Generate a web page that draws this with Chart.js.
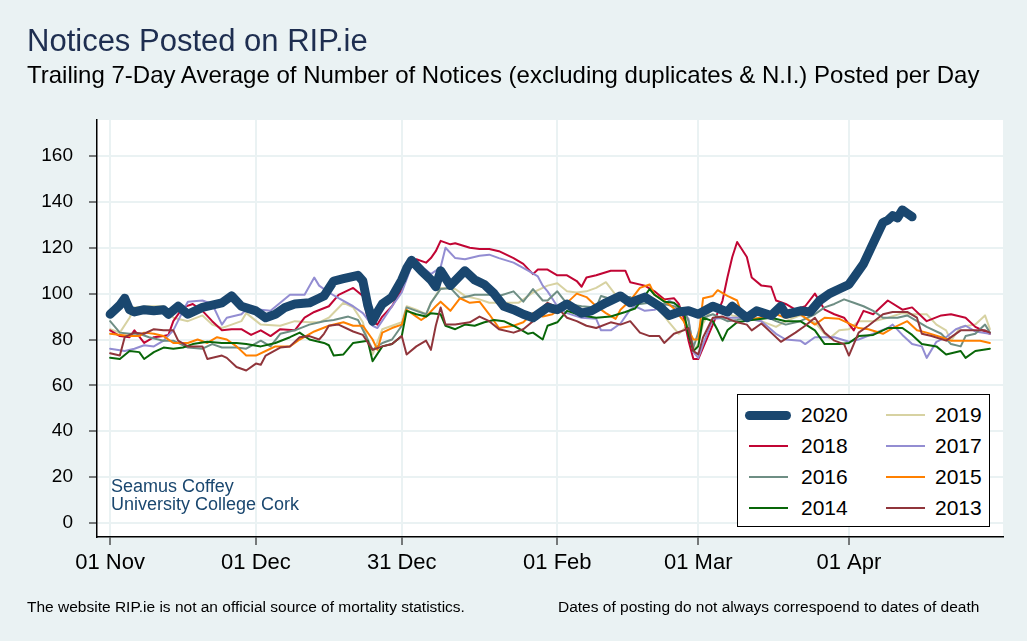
<!DOCTYPE html>
<html>
<head>
<meta charset="utf-8">
<script src="https://cdn.jsdelivr.net/npm/chart.js@4/dist/chart.umd.min.js"></script>
<style>
  body { margin: 0; background: #eaf2f3; font-family: 'Liberation Sans', Arial, sans-serif; }
  #wrap { position: relative; width: 1027px; height: 641px; overflow: hidden; }
  #chart { position: absolute; left: 0; top: 0; }
  .txt { position: absolute; white-space: nowrap; line-height: 1; }
  #legend { position: absolute; left: 737px; top: 394px; width: 253px; height: 133px;
            background: #fff; border: 1px solid #000; box-sizing: border-box; }
  .item { position: absolute; height: 20px; }
  .sw { position: absolute; top: 9px; height: 2px; }
  .lab { position: absolute; font-size: 21px; line-height: 20px; top: 0; }
</style>
</head>
<body>
<div id="wrap">
  <canvas id="chart" width="1027" height="641"></canvas>
  <div class="txt" style="left:27px;top:25px;font-size:31px;color:#1e2e50">Notices Posted on RIP.ie</div>
  <div class="txt" style="left:27px;top:63px;font-size:24px;color:#000">Trailing 7-Day Average of Number of Notices (excluding duplicates &amp; N.I.) Posted per Day</div>
  <div class="txt" style="left:111px;top:477px;font-size:18px;color:#1a476f">Seamus Coffey</div>
  <div class="txt" style="left:111px;top:495px;font-size:18px;color:#1a476f">University College Cork</div>
  <div class="txt" style="left:27px;top:599px;font-size:15.5px;color:#000">The website RIP.ie is not an official source of mortality statistics.</div>
  <div class="txt" style="left:558px;top:599px;font-size:15.5px;color:#000">Dates of posting do not always correspoend to dates of death</div>
  <div id="legend"></div>
</div>
<script>
// x = days since 01 Nov, y = trailing 7-day average of notices
const tickDays = [0, 30, 60, 92, 121, 152];
const tickLabels = ['01 Nov', '01 Dec', '31 Dec', '01 Feb', '01 Mar', '01 Apr'];
const yTicks = [0, 20, 40, 60, 80, 100, 120, 140, 160];
const years = ['2020', '2019', '2018', '2017', '2016', '2015', '2014', '2013'];

const pts2020 = [[0,91],[1,93],[2,95],[3,98],[4,93],[5,92],[7,93],[9,92.5],[11,93],[12,91],[14,94.5],[16,91],[19,94],[21,95],[23,96],[25,99],[27,94.5],[30,92.5],[32,89.5],[34,91],[36,94],[38,95.5],[41,96],[43,98],[44,99],[46,105.5],[48,106.5],[51,108],[52,105.5],[53,95],[54,88],[55,92],[56,95.5],[58,98.5],[60,106],[61,111],[62,114.5],[64,110],[66,106],[67,103],[68,110],[70,103.5],[73,110],[75,106],[77,104],[79,100],[81,94.5],[83,93],[85,91],[87,89.5],[90,94],[92,93],[94,95.5],[97,91.5],[99,92.5],[102,96],[105,99],[107,96],[110,98.5],[113,94.5],[115,90.5],[117,92],[119,92.5],[121,91],[124,94.5],[127,92],[128,94.5],[131,89.5],[133,92.5],[136,90.5],[138,94.5],[139,91],[142,92.5],[144,92],[146,97],[148,100],[150,102],[152,104],[153,107],[155,113],[157,122],[159,131],[160,132],[161,134],[162,133],[163,136.5],[164,135],[165,133.5]];

const pts2019 = [[0,84.5],[2,83],[4,89.5],[5,94],[8,94.5],[11,94.5],[13,89.5],[16,88],[19,90.5],[21,86.5],[23,85],[25,86.5],[27,88],[28,91.5],[31,86.5],[35,86],[38,88],[41,87.5],[43,87.5],[45,89.5],[48,96],[50,94],[52,87.5],[53,79.5],[54,73.5],[56,84.5],[58,86],[60,87.5],[61,94.5],[63,93],[65,91],[66,96],[68,102.5],[71,102],[73,99],[76,97.5],[78,96],[81,96],[84,96],[87,100.5],[89,102.5],[90,103.5],[92,104.5],[94,101],[96,100.5],[98,101],[100,102.5],[102,105],[104,99.5],[106,98.5],[109,97],[111,97],[113,93],[115,87.5],[117,82.5],[119,86.5],[120,75],[121,78],[122,87],[124,94.5],[126,94],[128,90.5],[131,89.5],[134,88],[137,85.5],[139,88],[142,90.5],[145,87.5],[147,82.5],[148,80.5],[150,84],[152,84.5],[154,88],[157,88],[160,89.5],[163,91.5],[165,91],[168,91],[170,86.5],[172,84],[173,79.5],[175,85.5],[178,86.5],[180,90.5],[181,84.5]];

const pts2018 = [[0,84],[2,81.5],[4,81],[5,84],[7,78.5],[9,81],[11,81.5],[12,82],[13,88],[15,94],[17,95.5],[19,92.5],[21,88],[23,84],[25,84.5],[27,84.5],[29,82],[31,84],[33,81.5],[35,84.5],[38,84],[40,89.5],[42,92],[45,94.5],[47,99.5],[50,102.5],[52,99],[53,89],[55,86.5],[56,90],[58,94.5],[60,102],[62,113.5],[63,115],[65,113.5],[66,115.5],[67,118.5],[68,123],[70,121.5],[71,122],[74,120],[76,119.5],[78,119.5],[80,118.5],[83,115.5],[85,113],[87,108.5],[88,110.5],[90,110.5],[92,108],[94,108],[96,105.5],[97,103],[98,107],[100,108],[103,110],[106,110],[107,105],[110,103.5],[112,101],[114,97.5],[116,98],[117,95.5],[118,89.5],[119,79.5],[120,71.5],[121,71.5],[122,76.5],[124,86.5],[126,97],[127,107],[128,116],[129,122.5],[131,116],[132,107],[134,103.5],[136,103],[137,97],[139,95.5],[141,93],[143,94.5],[145,100],[147,93],[149,91],[151,89.5],[153,84],[155,92.5],[157,91],[160,97],[163,93],[165,94],[168,88],[171,90.5],[173,91],[176,89.5],[178,85.5],[181,82.5]];

const pts2017 = [[0,76],[3,75],[5,76],[7,77.5],[9,77],[11,79.5],[13,84],[15,92.5],[16,96.5],[19,97],[21,95.5],[23,86.5],[24,89.5],[27,91],[28,93],[31,93],[33,92.5],[35,96],[37,99.5],[40,99.5],[42,107],[43,103.5],[45,100.5],[47,98],[50,94.5],[52,91.5],[54,86],[55,85],[58,94.5],[60,100.5],[62,112],[64,112],[66,108.5],[68,111.5],[69,120],[71,115.5],[73,115],[76,116.5],[78,117],[80,115.5],[83,113.5],[86,110],[88,107.5],[89,103.5],[90,101],[92,94.5],[94,91.5],[97,89.5],[100,89],[101,84],[103,84],[105,87],[107,93],[108,94.5],[110,92.5],[112,93],[114,94.5],[115,97],[117,94.5],[119,89],[120,74.5],[121,72],[122,78],[124,89],[127,89.5],[130,89.5],[134,88],[137,82.5],[139,80],[142,79.5],[143,78],[145,81],[149,81],[152,79],[154,80],[157,82.5],[160,85],[161,86.5],[163,82],[165,78],[167,77],[168,72],[170,79],[172,81],[174,84.5],[176,86],[178,83.5],[181,82.5]];

const pts2016 = [[0,88],[2,83],[4,82.5],[6,82.5],[8,81],[11,79.5],[13,79.5],[16,76.5],[19,76],[21,78],[23,76.5],[26,76.5],[28,76],[31,79.5],[33,77],[35,82.5],[38,84],[41,86.5],[44,88],[46,88.5],[49,90],[51,88.5],[53,80],[54,75.5],[56,78.5],[58,80],[60,86],[61,94],[63,92.5],[65,91],[66,96],[68,102],[70,102.5],[72,98],[75,99.5],[78,99.5],[80,99],[83,101],[85,96.5],[87,102],[89,97],[90,97],[92,101],[94,95.5],[97,94.5],[100,94],[101,99],[104,97],[107,98.5],[109,95.5],[111,96],[114,95.5],[116,94.5],[118,93],[119,88],[120,76.5],[121,83],[122,89.5],[124,91],[127,88],[129,88.5],[131,89.5],[134,91],[137,88],[139,86.5],[142,88],[145,91],[147,94],[149,95.5],[151,97.5],[153,96],[155,94.5],[157,92.5],[159,89.5],[162,89.5],[164,90.5],[166,88],[168,85.5],[171,82.5],[173,78],[175,77],[176,81.5],[178,82.5],[180,86.5],[181,83]];

const pts2015 = [[0,82.5],[4,81.5],[6,81.5],[7,83],[9,82.5],[11,81.5],[13,78.5],[16,78.5],[18,80],[20,78.5],[22,81],[24,80],[26,77],[28,73],[30,73],[32,75],[34,77],[37,77],[39,80],[42,83.5],[45,86],[48,87.5],[50,86],[52,86],[54,80],[55,75.5],[56,83],[58,85],[60,86.5],[61,93],[63,90],[64,88.5],[65,90],[67,94.5],[68,96.5],[70,92.5],[72,98],[74,96],[76,96.5],[78,91],[80,85],[83,86],[85,87.5],[87,91.5],[89,90],[91,91],[93,94],[96,100],[98,98.5],[100,94.5],[102,91.5],[104,89],[105,93],[107,97],[109,102.5],[111,104],[112,99.5],[114,97],[116,93.5],[118,88],[120,80],[121,80],[122,98],[124,99],[125,101.5],[127,99],[129,97],[130,91],[132,89],[134,89.5],[137,91],[139,89.5],[142,91],[145,86.5],[147,89.5],[150,89],[152,87],[154,85],[156,84.5],[159,82.5],[161,85],[164,88],[166,84],[168,83],[171,81],[173,79.5],[176,79.5],[179,79.5],[181,78.5]];

const pts2014 = [[0,72],[2,71.5],[4,75],[6,74.5],[7,71.5],[9,74.5],[11,76.5],[13,76],[15,76.5],[17,78],[20,79],[23,78.5],[26,78.5],[28,78],[31,77],[34,78.5],[37,81],[39,83],[41,80],[44,78.5],[45,77.5],[46,73],[48,73.5],[50,78.5],[53,79.5],[54,70.5],[56,77],[58,78],[60,81.5],[61,92.5],[63,91],[65,90],[66,91.5],[68,91],[69,86],[71,84.5],[73,86.5],[75,86],[77,87.5],[79,88.5],[81,88],[83,86],[86,82.5],[87,83],[89,80],[90,86],[92,87.5],[94,92.5],[97,90.5],[100,89.5],[103,90],[106,92],[108,93.5],[110,99],[111,102],[112,99.5],[114,96.5],[116,96],[118,92.5],[119,82],[120,75],[121,77],[122,89.5],[124,88],[125,84],[126,79.5],[127,84],[129,87.5],[132,88.5],[136,89.5],[139,88],[142,88],[145,84],[147,78],[150,78],[152,78.5],[154,81.5],[157,82],[160,85],[163,85],[165,82],[167,78],[170,77],[172,73.5],[175,75],[176,72],[178,75],[181,76]];

const pts2013 = [[0,74],[2,73],[3,81],[5,83],[7,82.5],[9,84.5],[11,84],[13,84],[14,79.5],[16,77],[19,77],[20,71.5],[23,73],[24,72],[26,68],[28,66.5],[30,69.5],[31,69],[32,73],[35,76.5],[37,77],[39,81],[41,81.5],[43,80],[44,82.5],[45,86],[47,86.5],[50,83.5],[52,82],[54,75.5],[56,77],[58,78],[60,81.5],[61,73.5],[63,77],[65,79.5],[66,75.5],[67,86],[68,94],[69,86.5],[71,86.5],[74,87.5],[76,90],[78,88],[80,84.5],[83,83],[85,84.5],[87,88],[89,94],[90,96],[92,94],[94,89.5],[96,88],[98,86],[100,85],[103,87.5],[105,86.5],[107,88],[109,83],[111,81.5],[113,81.5],[114,78.5],[116,82.5],[118,84],[119,85],[120,75],[121,73.5],[122,81],[124,89.5],[126,90],[129,87.5],[131,86.5],[132,84],[134,87],[136,83],[138,79],[141,83],[143,86],[145,89.5],[147,83],[149,79.5],[151,78],[152,73],[154,83],[156,86],[159,91],[161,92],[164,92],[166,89.5],[167,82.5],[169,81.5],[172,79.5],[175,84],[177,84],[180,84],[181,83]];

const series = {
  '2020': pts2020, '2019': pts2019, '2018': pts2018, '2017': pts2017,
  '2016': pts2016, '2015': pts2015, '2014': pts2014, '2013': pts2013
};

const colors = {
  '2020': '#1a476f', '2019': '#d7d2a2', '2018': '#c10534', '2017': '#938dd2',
  '2016': '#6e8e84', '2015': '#ff8000', '2014': '#086608', '2013': '#90353b'
};

// 2020 first so it is drawn on top
const drawOrder = ['2020', '2013', '2014', '2015', '2016', '2017', '2018', '2019'];

const datasets = drawOrder.map(yr => ({
  label: yr,
  data: series[yr].map(p => ({ x: p[0], y: p[1] })),
  borderColor: colors[yr],
  borderWidth: yr === '2020' ? 9 : 2,
  borderJoinStyle: 'round',
  borderCapStyle: 'round',
  pointRadius: 0,
  tension: 0,
  fill: false
}));

const plotBg = {
  id: 'plotBg',
  beforeDraw(chart) {
    const { ctx, chartArea: a } = chart;
    ctx.save();
    ctx.fillStyle = '#ffffff';
    ctx.fillRect(a.left, a.top, a.right - a.left, a.bottom - a.top);
    ctx.restore();
  }
};

const font = { family: "'Liberation Sans', Arial, sans-serif", size: 19 };

new Chart(document.getElementById('chart'), {
  type: 'line',
  data: { datasets },
  plugins: [plotBg],
  options: {
    responsive: false,
    animation: false,
    devicePixelRatio: 1,
    layout: { padding: { top: 120, right: 24, left: 0, bottom: 0 } },
    plugins: { legend: { display: false }, tooltip: { enabled: false } },
    scales: {
      x: {
        type: 'linear',
        min: -2.7,
        max: 183.7,
        afterBuildTicks: axis => { axis.ticks = tickDays.map(v => ({ value: v })); },
        afterFit: axis => { axis.height = 104; },
        ticks: {
          autoSkip: false,
          maxRotation: 0,
          padding: 5,
          color: '#000',
          font: { ...font, size: 22 },
          callback: v => tickLabels[tickDays.indexOf(v)]
        },
        grid: { color: '#eaf2f3', lineWidth: 2, tickColor: '#000', tickLength: 8, tickWidth: 1 },
        border: { color: '#000', width: 1.5 }
      },
      y: {
        min: -6.1,
        max: 175.7,
        afterBuildTicks: axis => { axis.ticks = yTicks.map(v => ({ value: v })); },
        afterFit: axis => { axis.width = 97; },
        ticks: { padding: 16, color: '#000', font },
        grid: { color: '#eaf2f3', lineWidth: 2, tickColor: '#000', tickLength: 8, tickWidth: 1 },
        border: { color: '#000', width: 1.5 }
      }
    }
  }
});

// legend box, two columns as in the original
const legend = document.getElementById('legend');
const rowTops = [10, 41, 72, 103];
years.forEach((yr, i) => {
  const col = i % 2, row = Math.floor(i / 2);
  const item = document.createElement('div');
  item.className = 'item';
  item.style.left = (col === 0 ? 7 : 144) + 'px';
  item.style.top = rowTops[row] + 'px';
  const sw = document.createElement('div');
  sw.className = 'sw';
  sw.style.background = colors[yr];
  if (yr === '2020') {
    sw.style.left = '0px'; sw.style.width = '46px';
    sw.style.height = '9px'; sw.style.top = '6px'; sw.style.borderRadius = '4.5px';
  } else {
    sw.style.left = '4px'; sw.style.width = '39px';
  }
  const lab = document.createElement('div');
  lab.className = 'lab';
  lab.style.left = (col === 0 ? 56 : 53) + 'px';
  lab.textContent = yr;
  item.appendChild(sw);
  item.appendChild(lab);
  legend.appendChild(item);
});
</script>
</body>
</html>
